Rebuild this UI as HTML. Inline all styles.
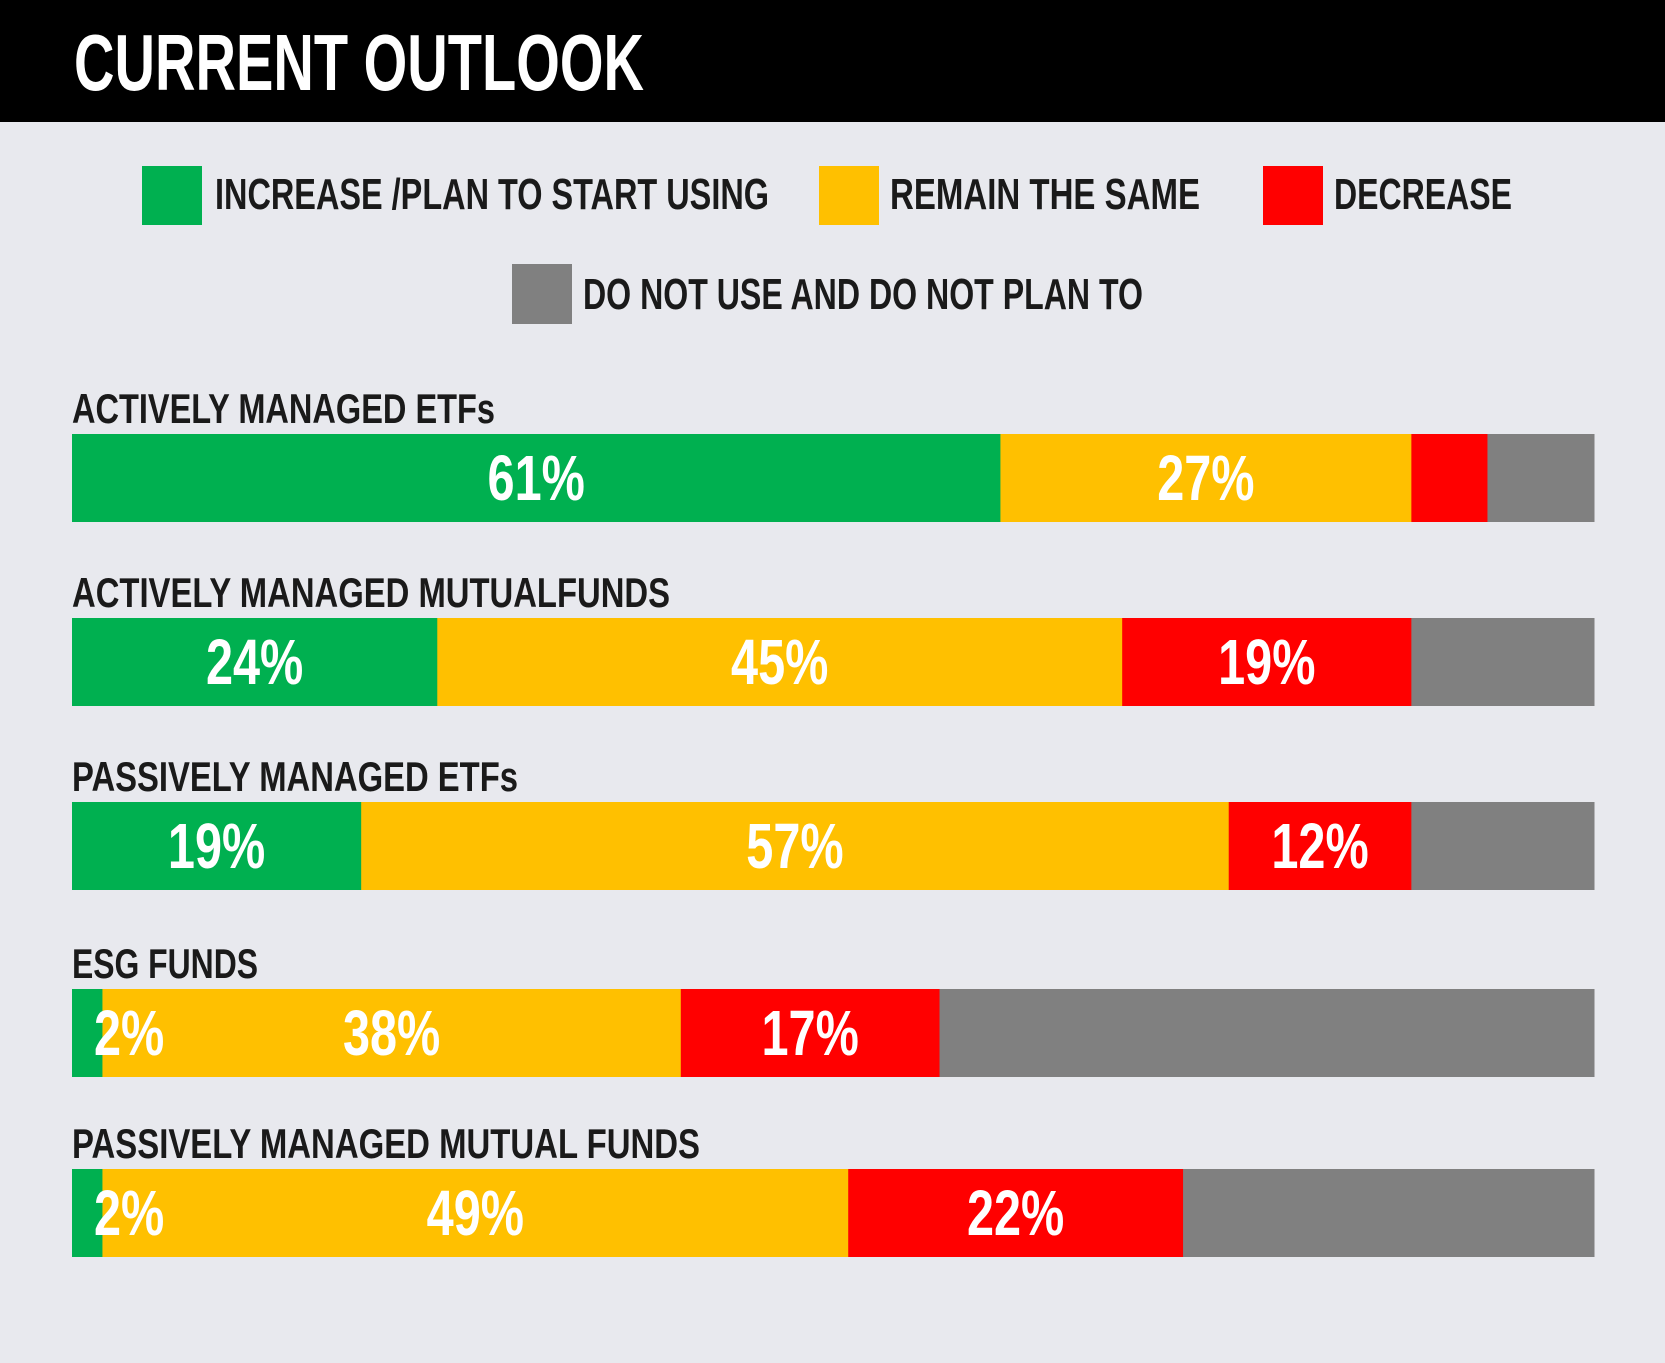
<!DOCTYPE html>
<html><head><meta charset="utf-8"><style>
html,body{margin:0;padding:0;background:#e8e9ee;}
svg{display:block;}
text{font-family:"Liberation Sans Narrow","Liberation Sans",sans-serif;font-weight:bold;}
</style></head><body>
<svg id="chart" width="1665" height="1363" viewBox="0 0 1665 1363" xmlns="http://www.w3.org/2000/svg">
<rect x="0" y="0" width="1665" height="1363" fill="#e8e9ee"/>
<rect x="0" y="0" width="1665" height="122" fill="#000"/>
<text x="74" y="90" font-size="80" fill="#fff" textLength="570" lengthAdjust="spacingAndGlyphs">CURRENT OUTLOOK</text>
<g>
<rect x="142" y="166" width="60" height="59" fill="#00b050"/>
<text x="215" y="209" font-size="44" fill="#1a1a1a" textLength="554" lengthAdjust="spacingAndGlyphs">INCREASE /PLAN TO START USING</text>
<rect x="819" y="166" width="60" height="59" fill="#ffc000"/>
<text x="890" y="209" font-size="44" fill="#1a1a1a" textLength="310" lengthAdjust="spacingAndGlyphs">REMAIN THE SAME</text>
<rect x="1263" y="166" width="60" height="59" fill="#ff0000"/>
<text x="1334" y="209" font-size="44" fill="#1a1a1a" textLength="178" lengthAdjust="spacingAndGlyphs">DECREASE</text>
<rect x="512" y="264" width="60" height="60" fill="#808080"/>
<text x="583" y="309" font-size="44" fill="#1a1a1a" textLength="560" lengthAdjust="spacingAndGlyphs">DO NOT USE AND DO NOT PLAN TO</text>
</g>
<g id="bars"></g>
</svg>
<script>
const categories = ["ACTIVELY MANAGED ETFs","ACTIVELY MANAGED MUTUALFUNDS","PASSIVELY MANAGED ETFs","ESG FUNDS","PASSIVELY MANAGED MUTUAL FUNDS"];
const increase = [61,24,19,2,2];
const remain = [27,45,57,38,49];
const decrease = [5,19,12,17,22];
const notUsed = [7,12,12,43,27];
const showLabel = [[true,true,false,false],[true,true,true,false],[true,true,true,false],[true,true,true,false],[true,true,true,false]];
const seriesNames = ["increase","remain","decrease","not-used"];
const colors = ["#00b050","#ffc000","#ff0000","#808080"];
const labelWidths = [423,598,446,186,628];

const X0 = 72, X1 = 1594, rowTops = [434,618,802,989,1169], barH = 88;
const xScale = v => X0 + (X1 - X0) * v / 100;
const g = document.getElementById('bars');
const NS = "http://www.w3.org/2000/svg";
categories.forEach((cat, i) => {
  const top = rowTops[i];
  const lab = document.createElementNS(NS,'text');
  
  
  lab.setAttribute('x', X0); lab.setAttribute('y', top - 11);
  lab.setAttribute('font-size', 42); lab.setAttribute('fill', '#1a1a1a');
  lab.setAttribute('textLength', labelWidths[i]); lab.setAttribute('lengthAdjust','spacingAndGlyphs');
  lab.textContent = cat; g.appendChild(lab);
  const vals = [increase[i], remain[i], decrease[i], notUsed[i]];
  let cum = 0;
  vals.forEach((v, s) => {
    const x = xScale(cum), w = xScale(cum + v) - x;
    const r = document.createElementNS(NS,'rect');
    
    
    r.setAttribute('x', x); r.setAttribute('y', top); r.setAttribute('width', w + 0.5); r.setAttribute('height', barH);
    r.setAttribute('fill', colors[s]); g.appendChild(r);
    cum += v;
  });
  cum = 0;
  vals.forEach((v, s) => {
    const x = xScale(cum), w = xScale(cum + v) - x;
    if (showLabel[i][s]) {
      const t = document.createElementNS(NS,'text');
      
      
      t.setAttribute('y', top + 66); t.setAttribute('font-size', 64); t.setAttribute('fill', '#fff');
      t.textContent = v + '%'; g.appendChild(t);
      const len = t.getComputedTextLength() * 0.76;
      t.setAttribute('textLength', len); t.setAttribute('lengthAdjust','spacingAndGlyphs');
      if (v < 5) { t.setAttribute('x', x + 22); }
      else { t.setAttribute('x', x + w/2 - len/2); }
    }
    cum += v;
  });
});
</script>
</body></html>
